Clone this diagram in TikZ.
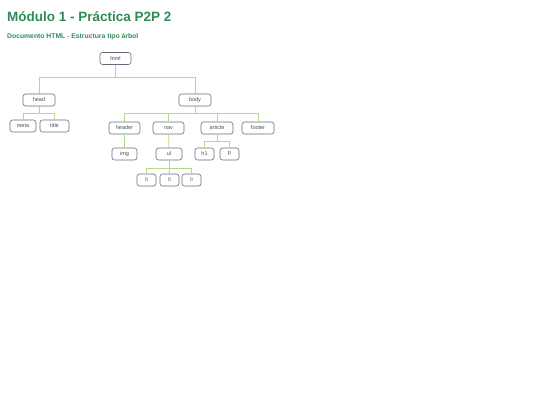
\documentclass[tikz,border=0pt]{standalone}
\usepackage{fontspec}
\setmainfont{Liberation Sans}
\usepackage{xcolor}
\usepackage{tikz}
\definecolor{titlegreen}{HTML}{2E8B57}
\definecolor{boxline}{HTML}{646C7C}
\definecolor{boxtext}{HTML}{4A4F5A}
\definecolor{branchgreen}{HTML}{B2DA8A}
\tikzstyle{tag} = [draw=boxline, fill=white, rounded corners=2.5pt, line width=0.6pt,
    minimum height=12pt, inner sep=0pt, font=\fontsize{5.5}{6}\selectfont, text=boxtext]
\tikzstyle{branch} = [draw=branchgreen, line width=0.8pt]

\begin{document}
\begin{tikzpicture}[x=1pt,y=-1pt]
  \useasboundingbox (0,0) rectangle (540,405);
  \node[anchor=west, inner sep=0pt, text=titlegreen, font=\fontsize{13.5}{15}\selectfont\bfseries] (heading) at (7,17) {Módulo 1 - Práctica P2P 2};
  \node[anchor=west, inner sep=0pt, text=titlegreen, font=\fontsize{6.8}{8}\selectfont\bfseries] (subheading) at (7,37) {Documento HTML - Estructura tipo árbol};

  % html, head, body
  \node[tag, minimum width=31pt] (html) at (115.5,58.5) {html};
  \node[tag, minimum width=32pt] (head) at (39,100) {head};
  \node[tag, minimum width=32pt] (body) at (195,100) {body};

  % head children
  \node[tag, minimum width=26pt] (meta) at (23,126) {meta};
  \node[tag, minimum width=29pt] (title) at (54.5,126) {title};

  % body children
  \node[tag, minimum width=31pt] (header) at (124.5,128) {header};
  \node[tag, minimum width=31pt] (nav) at (168.5,128) {nav};
  \node[tag, minimum width=32pt] (article) at (217,128) {article};
  \node[tag, minimum width=32pt] (footer) at (258,128) {footer};

  \node[tag, minimum width=25pt] (img) at (124.5,154) {img};
  \node[tag, minimum width=26pt] (ul) at (169,154) {ul};
  \node[tag, minimum width=19pt] (h1) at (204.5,154) {h1};
  \node[tag, minimum width=19pt] (p) at (229.5,154) {p};

  \node[tag, minimum width=19pt] (li1) at (146.5,180) {li};
  \node[tag, minimum width=19pt] (li2) at (169.5,180) {li};
  \node[tag, minimum width=19pt] (li3) at (191.5,180) {li};

  % branches
  \coordinate (htmlbar) at (115.5,77);
  \coordinate (headbar) at (39,113);
  \coordinate (bodybar) at (195,113);
  \coordinate (articlebar) at (217,141);
  \coordinate (ulbar) at (169,168);

  \draw[branch] (html) -- (htmlbar);
  \draw[branch] (head) |- (htmlbar);
  \draw[branch] (body) |- (htmlbar);
  \draw[branch] (head) -- (headbar);
  \draw[branch] (meta) |- (headbar);
  \draw[branch] (title) |- (headbar);
  \draw[branch] (body) -- (bodybar);
  \draw[branch] (header) |- (bodybar);
  \draw[branch] (nav) |- (bodybar);
  \draw[branch] (article) |- (bodybar);
  \draw[branch] (footer) |- (bodybar);
  \draw[branch] (header) -- (img);
  \draw[branch] (nav) -- (ul);
  \draw[branch] (article) -- (articlebar);
  \draw[branch] (h1) |- (articlebar);
  \draw[branch] (p) |- (articlebar);
  \draw[branch] (ul) -- (ulbar);
  \draw[branch] (li1) |- (ulbar);
  \draw[branch] (li2) |- (ulbar);
  \draw[branch] (li3) |- (ulbar);
\end{tikzpicture}
\end{document}
